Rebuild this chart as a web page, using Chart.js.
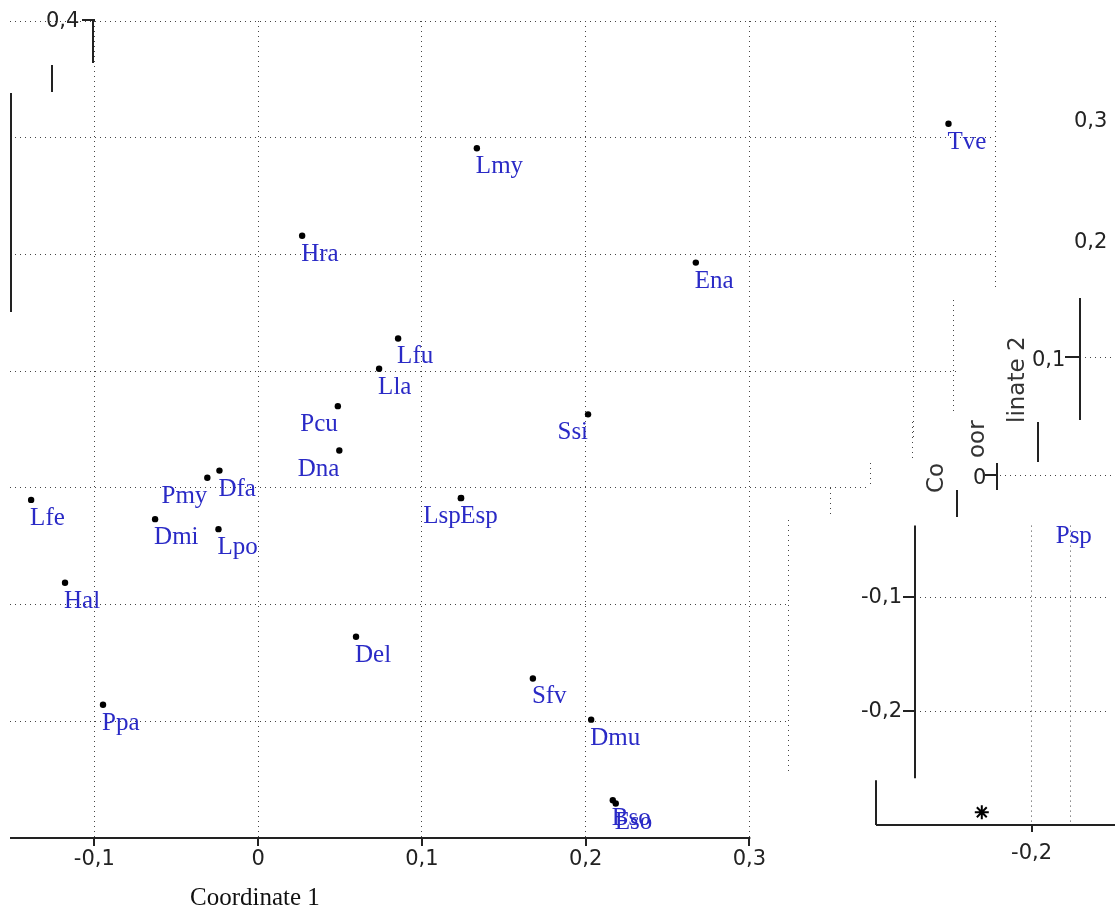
<!DOCTYPE html>
<html>
<head>
<meta charset="utf-8">
<script src="https://cdn.jsdelivr.net/npm/chart.js@4.4.1/dist/chart.umd.min.js"></script>
<style>
html, body { margin:0; padding:0; background:#fff; width:1115px; height:911px; overflow:hidden; }
#wrap { position:relative; width:1115px; height:911px; }
canvas { position:absolute; }
#main { left:0; top:0; }
#inset { left:790px; top:500px; background:#fff; }
.w { position:absolute; background:#fff; }
.t { position:absolute; font-family:'DejaVu Sans'; font-size:21px; line-height:1; color:#222; white-space:nowrap; }
.r { font-size:23px; color:#333; transform-origin:left top; transform:rotate(-90deg); }
.ser { font-family:'Liberation Serif'; font-size:25px; }
.v { position:absolute; width:2px; background:#222; }
.h { position:absolute; height:2px; background:#222; }
.dv { position:absolute; width:1px; background:repeating-linear-gradient(to bottom,#444 0 1px,transparent 1px 5px); }
.dh { position:absolute; height:1px; background:repeating-linear-gradient(to right,#444 0 1px,transparent 1px 5px); }
</style>
</head>
<body>
<div id="wrap">
  <canvas id="main" width="1115" height="911"></canvas>

  <!-- bits of the cut-up right side -->
  <div class="w" style="left:958px;top:290px;width:157px;height:210px"></div>
  <div class="w" style="left:870px;top:440px;width:88px;height:60px"></div>

  <canvas id="inset" width="325" height="411"></canvas>

  <div class="t" style="left:46px;top:10px">0,4</div>
  <div class="h" style="left:82px;top:19px;width:13px"></div>
  <div class="v" style="left:92px;top:20px;height:43px"></div>
  <div class="v" style="left:51px;top:65px;height:27px"></div>
  <div class="v" style="left:10px;top:93px;height:219px"></div>

  <div class="t" style="left:1074px;top:110px">0,3</div>
  <div class="t" style="left:1074px;top:231px">0,2</div>

  <div class="t" style="left:1032px;top:349px">0,1</div>
  <div class="h" style="left:1065px;top:356px;width:15px"></div>
  <div class="v" style="left:1079px;top:298px;height:122px"></div>
  <div class="dh" style="left:1085px;top:357px;width:30px"></div>
  <div class="v" style="left:1037px;top:422px;height:40px"></div>

  <div class="t" style="left:973px;top:467px">0</div>
  <div class="h" style="left:985px;top:474px;width:12px"></div>
  <div class="v" style="left:996px;top:463px;height:27px"></div>
  <div class="dh" style="left:1000px;top:475px;width:115px"></div>
  <div class="v" style="left:956px;top:490px;height:27px"></div>

  <div class="t r" style="left:1005px;top:423px">linate 2</div>
  <div class="t r" style="left:965px;top:458px">oor</div>
  <div class="t r" style="left:924px;top:493px">Co</div>

  <div class="dv" style="left:953px;top:300px;height:115px"></div>
  <div class="dv" style="left:912px;top:422px;height:36px"></div>
  <div class="dv" style="left:870px;top:463px;height:25px"></div>
  <div class="dv" style="left:830px;top:488px;height:28px"></div>
  <div class="dv" style="left:788px;top:520px;height:255px"></div>

  <div class="t ser" style="left:190px;top:884px;color:#111">Coordinate 1</div>
</div>

<script>
// scores (Coordinate 1, Coordinate 2)
const taxa = ["Tve","Lmy","Hra","Ena","Lfu","Lla","Ssi","Pcu","Dna","Pmy","Dfa","Lfe","Dmi","Lpo","Hal","Del","Sfv","Dmu","Bso","Eso","Ppa","Lsp","Esp"];
const coord1 = [0.4216,0.1336,0.0269,0.2673,0.0855,0.0739,0.2015,0.0487,0.0496,-0.0310,-0.0236,-0.1386,-0.0629,-0.0242,-0.1179,0.0598,0.1678,0.2034,0.2166,0.2184,-0.0947,0.1238,0.1240];
const coord2 = [0.312,0.291,0.216,0.193,0.128,0.102,0.063,0.070,0.032,0.0086,0.0148,-0.0103,-0.0268,-0.0354,-0.0813,-0.1276,-0.1633,-0.1986,-0.2677,-0.2705,-0.1858,-0.0088,-0.0086];

// the piece at the lower right
const insetTaxa = ["Psp"];
const insetCoord1 = [-0.1839];
const insetCoord2 = [-0.030];
const starCoord1 = [-0.2318];
const starCoord2 = [-0.289];

const xTickValues = [-0.1, 0, 0.1, 0.2, 0.3];
const xGridMain = [-0.1, 0, 0.1, 0.2, 0.3, 0.4, 0.45];
const yGridMain = [-0.2, -0.1, 0, 0.1, 0.2, 0.3, 0.4];
const insetYTicks = [-0.2, -0.1];
const insetXTicks = [-0.2];
const insetXGrid = [-0.2, -0.175];

// labels printed to the left of their dot
const leftSide = ["Ssi","Pcu","Dna","Pmy","Lsp"];

const labelBlue = '#2a2ac6';
const gridCol = '#444';
const tickFont = { family: 'DejaVu Sans', size: 21 };

const fmtTick = v => {
    const r = Math.round(v * 10) / 10;
    return r === 0 ? '0' : r.toFixed(1).replace('.', ',');
};
const hasVal = (arr, v) => arr.some(t => Math.abs(t - v) < 1e-9);

const labelPlugin = {
    id: 'ptLabels',
    afterDatasetsDraw(chart) {
        const ctx = chart.ctx;
        ctx.save();
        ctx.font = '25px "Liberation Serif"';
        ctx.fillStyle = labelBlue;
        ctx.textBaseline = 'alphabetic';
        chart.data.datasets.forEach((ds, di) => {
            if (!ds.names) return;
            chart.getDatasetMeta(di).data.forEach((pt, i) => {
                const n = ds.names[i];
                const left = leftSide.includes(n);
                ctx.textAlign = left ? 'right' : 'left';
                ctx.fillText(n, pt.x + (left ? 0 : -1), pt.y + 25);
            });
        });
        ctx.restore();
    }
};

// bottom axis of the main plot only runs to 0,3
const mainAxisPlugin = {
    id: 'mainAxis',
    afterDraw(chart) {
        const { ctx, scales: { x, y } } = chart;
        const yb = Math.round(y.getPixelForValue(y.min));
        ctx.save();
        ctx.strokeStyle = '#222';
        ctx.lineWidth = 2;
        ctx.beginPath();
        ctx.moveTo(x.getPixelForValue(x.min), yb);
        ctx.lineTo(x.getPixelForValue(0.3) + 1, yb);
        xTickValues.forEach(v => {
            const px = Math.round(x.getPixelForValue(v));
            ctx.moveTo(px, yb); ctx.lineTo(px, yb + 8);
        });
        ctx.stroke();
        ctx.restore();
    }
};

const insetAxisPlugin = {
    id: 'insetAxis',
    afterDraw(chart) {
        const { ctx, scales: { x, y } } = chart;
        const xl = Math.round(x.getPixelForValue(x.min));
        const yb = Math.round(y.getPixelForValue(y.min));
        const yCut = y.getPixelForValue(-0.259);
        const xL = Math.round(x.getPixelForValue(-0.2995));
        ctx.save();
        ctx.strokeStyle = '#222';
        ctx.lineWidth = 2;
        ctx.beginPath();
        ctx.moveTo(xl, y.getPixelForValue(y.max)); ctx.lineTo(xl, yCut);
        ctx.moveTo(xL, yCut + 2); ctx.lineTo(xL, yb);
        ctx.moveTo(xL, yb); ctx.lineTo(chart.width, yb);
        insetYTicks.forEach(v => {
            const py = Math.round(y.getPixelForValue(v));
            ctx.moveTo(xl - 12, py); ctx.lineTo(xl, py);
        });
        insetXTicks.forEach(v => {
            const px = Math.round(x.getPixelForValue(v));
            ctx.moveTo(px, yb); ctx.lineTo(px, yb + 7);
        });
        ctx.stroke();
        ctx.restore();
    }
};

Chart.defaults.font.family = 'DejaVu Sans';

new Chart(document.getElementById('main'), {
    type: 'scatter',
    data: {
        datasets: [{
            data: taxa.map((n, i) => ({ x: coord1[i], y: coord2[i] })),
            names: taxa,
            pointRadius: 3.2,
            pointBackgroundColor: '#000',
            pointBorderWidth: 0,
            clip: false
        }]
    },
    options: {
        responsive: false, animation: false, devicePixelRatio: 1,
        layout: { padding: { left: 10, top: 21, right: 120, bottom: 0 } },
        plugins: { legend: { display: false }, tooltip: { enabled: false } },
        scales: {
            x: {
                type: 'linear', min: -0.1515, max: 0.45,
                afterBuildTicks: s => { s.ticks = xGridMain.map(v => ({ value: v })); },
                afterFit: s => { s.height = 73; },
                grid: { color: gridCol, lineWidth: 1, drawTicks: false, borderDash: [1, 4] },
                border: { display: false, dash: [1, 4] },
                ticks: { padding: 9, font: tickFont, color: '#222', maxRotation: 0, autoSkip: false,
                         callback: v => hasVal(xTickValues, v) ? fmtTick(v) : '' }
            },
            y: {
                type: 'linear', min: -0.3, max: 0.4,
                afterBuildTicks: s => { s.ticks = yGridMain.map(v => ({ value: v })); },
                afterFit: s => { s.width = 0; },
                grid: { color: gridCol, lineWidth: 1, drawTicks: false, borderDash: [1, 4] },
                border: { display: false, dash: [1, 4] },
                ticks: { display: false }
            }
        }
    },
    plugins: [labelPlugin, mainAxisPlugin]
});

new Chart(document.getElementById('inset'), {
    type: 'scatter',
    data: {
        datasets: [{
            data: insetTaxa.map((n, i) => ({ x: insetCoord1[i], y: insetCoord2[i] })),
            names: insetTaxa,
            pointRadius: 3.2,
            pointBackgroundColor: '#000',
            pointBorderWidth: 0,
            clip: false
        }, {
            data: starCoord1.map((v, i) => ({ x: v, y: starCoord2[i] })),
            pointStyle: 'star',
            pointRadius: 7,
            pointBorderColor: '#000',
            pointBorderWidth: 2,
            clip: false
        }]
    },
    options: {
        responsive: false, animation: false, devicePixelRatio: 1,
        layout: { padding: { left: 0, top: 18, right: 0, bottom: 0 } },
        plugins: { legend: { display: false }, tooltip: { enabled: false } },
        scales: {
            x: {
                type: 'linear', min: -0.2745, max: -0.1524,
                afterBuildTicks: s => { s.ticks = insetXGrid.map(v => ({ value: v })); },
                afterFit: s => { s.height = 86; },
                grid: { color: gridCol, lineWidth: 1, drawTicks: false, borderDash: [1, 4] },
                border: { display: false, dash: [1, 4] },
                ticks: { padding: 16, font: tickFont, color: '#222', maxRotation: 0, autoSkip: false,
                         callback: v => hasVal(insetXTicks, v) ? fmtTick(v) : '' }
            },
            y: {
                type: 'linear', min: -0.3002, max: -0.0369,
                afterBuildTicks: s => { s.ticks = insetYTicks.map(v => ({ value: v })); },
                afterFit: s => { s.width = 125; },
                grid: { color: gridCol, lineWidth: 1, drawTicks: false, borderDash: [1, 4] },
                border: { display: false, dash: [1, 4] },
                ticks: { padding: 13, font: tickFont, color: '#222', callback: v => fmtTick(v) }
            }
        }
    },
    plugins: [labelPlugin, insetAxisPlugin]
});
</script>
</body>
</html>
